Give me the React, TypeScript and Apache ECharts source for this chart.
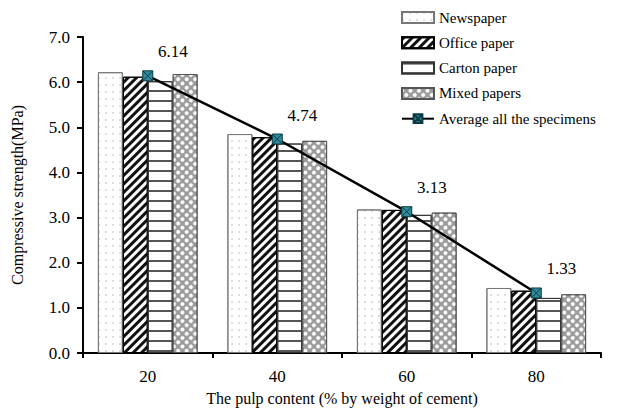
import React, { useEffect, useRef } from "react";
import * as echarts from "echarts";

const categories = ["20", "40", "60", "80"];
const newspaper = [6.22, 4.85, 3.18, 1.44];
const officePaper = [6.12, 4.78, 3.17, 1.38];
const cartonPaper = [6.02, 4.64, 3.06, 1.22];
const mixedPapers = [6.18, 4.7, 3.11, 1.3];
const average = [6.14, 4.74, 3.13, 1.33];
const yTicks = [0, 1, 2, 3, 4, 5, 6, 7];

const FONT = "'Liberation Serif', 'Times New Roman', serif";

export default function App() {
  const ref = useRef<HTMLDivElement>(null);
  useEffect(() => {
    if (!ref.current) return;
    const chart = echarts.init(ref.current, null, { renderer: "svg" });
    const barBase = {
      type: "bar" as const,
      barGap: "0%",
      barCategoryGap: "23%",
    };
    chart.setOption({
      animation: false,
      backgroundColor: "#ffffff",
      textStyle: { fontFamily: FONT },
      grid: { left: 83, right: 34, top: 37, bottom: 61 },
      legend: {
        orient: "vertical",
        left: 396,
        top: 5,
        itemWidth: 32,
        itemHeight: 11,
        itemGap: 10.3,
        textStyle: { fontFamily: FONT, fontSize: 15, color: "#000" },
        data: [
          { name: "Newspaper", icon: "rect" },
          { name: "Office paper", icon: "rect" },
          { name: "Carton paper", icon: "rect" },
          { name: "Mixed papers", icon: "rect" },
          { name: "Average all the specimens" },
        ],
      },
      xAxis: {
        type: "category",
        data: categories,
        name: "The pulp content (% by weight of cement)",
        nameLocation: "middle",
        nameGap: 37,
        nameTextStyle: { fontFamily: FONT, fontSize: 16, color: "#000" },
        axisLine: { lineStyle: { color: "#000", width: 2 } },
        axisTick: { show: true, length: 5, lineStyle: { color: "#000", width: 2 } },
        axisLabel: { fontFamily: FONT, fontSize: 17, color: "#000", margin: 15 },
      },
      yAxis: {
        type: "value",
        min: yTicks[0],
        max: yTicks[yTicks.length - 1],
        interval: 1,
        name: "Compressive strength(MPa)",
        nameLocation: "middle",
        nameGap: 58,
        nameTextStyle: { fontFamily: FONT, fontSize: 16, color: "#000" },
        axisLine: { show: true, lineStyle: { color: "#000", width: 2 } },
        axisTick: { show: true, length: 6, lineStyle: { color: "#000", width: 2 } },
        splitLine: { show: false },
        axisLabel: {
          fontFamily: FONT,
          fontSize: 17,
          color: "#000",
          margin: 13,
          formatter: (v: number) => v.toFixed(1),
        },
      },
      series: [
        {
          ...barBase,
          name: "Newspaper",
          data: newspaper,
          itemStyle: {
            color: "#ffffff",
            borderColor: "#777",
            borderWidth: 1,
            decal: {
              symbol: "circle",
              symbolSize: 0.7,
              dashArrayX: [2, 5],
              dashArrayY: [2, 5],
              color: "#aaaaaa",
            },
          },
        },
        {
          ...barBase,
          name: "Office paper",
          data: officePaper,
          itemStyle: {
            color: "#ffffff",
            borderColor: "#000",
            borderWidth: 1,
            decal: {
              symbol: "rect",
              symbolSize: 1,
              dashArrayX: [1, 0],
              dashArrayY: [2.6, 2.4],
              rotation: -Math.PI / 4,
              color: "#111",
            },
          },
        },
        {
          ...barBase,
          name: "Carton paper",
          data: cartonPaper,
          itemStyle: {
            color: "#ffffff",
            borderColor: "#333",
            borderWidth: 1,
            decal: {
              symbol: "rect",
              symbolSize: 1,
              dashArrayX: [1, 0],
              dashArrayY: [1.5, 8],
              color: "#555",
            },
          },
        },
        {
          ...barBase,
          name: "Mixed papers",
          data: mixedPapers,
          itemStyle: {
            color: "#9a9a9a",
            borderColor: "#555",
            borderWidth: 1,
            decal: {
              symbol: "circle",
              symbolSize: 1,
              dashArrayX: [3.4, 1.2],
              dashArrayY: [3.4, 1.2],
              rotation: Math.PI / 4,
              color: "#ffffff",
            },
          },
        },
        {
          type: "line",
          name: "Average all the specimens",
          data: average,
          z: 10,
          symbol: "path://M0,0L10,0L10,10L0,10ZM0,0L10,10M10,0L0,10",
          symbolSize: 10,
          lineStyle: { color: "#000", width: 2.5 },
          itemStyle: { color: "#2e8b9c", borderColor: "#0b3a44", borderWidth: 1 },
          label: {
            show: true,
            position: "top",
            offset: [25, -5],
            fontFamily: FONT,
            fontSize: 17,
            color: "#000",
            formatter: (p: any) => Number(p.value).toFixed(2),
          },
        },
      ],
    });
    return () => chart.dispose();
  }, []);
  return (
    <div
      ref={ref}
      style={{ position: "fixed", left: 0, top: 0, width: 635, height: 414 }}
    />
  );
}
